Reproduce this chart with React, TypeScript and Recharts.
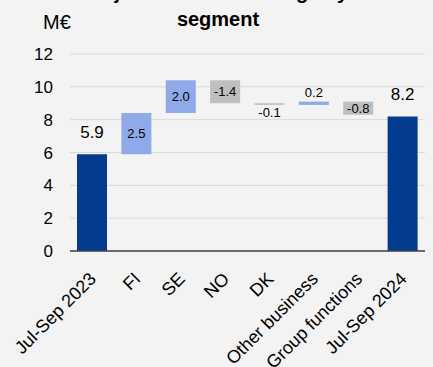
import { BarChart, Bar, XAxis, YAxis, CartesianGrid, Cell, LabelList } from 'recharts';

const categories = ['Jul-Sep 2023', 'FI', 'SE', 'NO', 'DK', 'Other business', 'Group functions', 'Jul-Sep 2024'];
const values = [5.9, 2.5, 2.0, -1.4, -0.1, 0.2, -0.8, 8.2];
const isTotal = [true, false, false, false, false, false, false, true];
const yTicks = [0, 2, 4, 6, 8, 10, 12];

const DARK = '#033c8f';
const LIGHT = '#8faae8';
const GRAY = '#bfbfbf';
const FONT = '"Liberation Sans", Arial, sans-serif';

// waterfall: invisible base + visible step
let running = 0;
const data = categories.map((name, i) => {
  const v = values[i];
  if (isTotal[i]) {
    running = v;
    return { name, base: 0, step: v, value: v, total: true };
  }
  const from = running;
  running = from + v;
  return { name, base: Math.min(from, running), step: Math.abs(v), value: v, total: false };
});

const fmt = (v: number) => v.toFixed(1);

const StepLabel = (props: any) => {
  const { x, y, width, height, index } = props;
  const d = data[index];
  if (!d) return null;
  const cx = x + width / 2;
  if (d.total) {
    return (
      <text x={cx} y={y - 16} textAnchor="middle" fontSize={17} fill="#000" fontFamily={FONT}>
        {fmt(d.value)}
      </text>
    );
  }
  if (height > 10) {
    return (
      <text x={cx} y={y + height / 2} dy={4.5} textAnchor="middle" fontSize={13} fill="#000" fontFamily={FONT}>
        {fmt(d.value)}
      </text>
    );
  }
  if (d.value > 0) {
    return (
      <text x={cx} y={y - 5} textAnchor="middle" fontSize={13} fill="#000" fontFamily={FONT}>
        {fmt(d.value)}
      </text>
    );
  }
  return (
    <text x={cx} y={y + height + 12} textAnchor="middle" fontSize={13} fill="#000" fontFamily={FONT}>
      {fmt(d.value)}
    </text>
  );
};

const XTick = (props: any) => {
  const { x, y, payload } = props;
  const tx = x + 5;
  const ty = y + 27;
  return (
    <text
      x={tx}
      y={ty}
      transform={`rotate(-45 ${tx} ${ty})`}
      textAnchor="end"
      fontSize={18}
      fill="#000"
      fontFamily={FONT}
    >
      {payload.value}
    </text>
  );
};

const titleStyle = {
  position: 'absolute' as const,
  left: 0,
  width: 436,
  textAlign: 'center' as const,
  fontSize: 20,
  fontWeight: 'bold' as const,
  lineHeight: '24px',
  color: '#000',
  whiteSpace: 'nowrap' as const,
};

export default function App() {
  return (
    <div
      style={{
        position: 'absolute',
        top: 0,
        left: 0,
        width: 433,
        height: 367,
        background: '#f3f3f3',
        overflow: 'hidden',
        fontFamily: FONT,
      }}
    >
      <div style={{ ...titleStyle, top: -20 }}>Adjusted EBITDA bridge by</div>
      <div style={{ ...titleStyle, top: 7 }}>segment</div>
      <div style={{ position: 'absolute', top: 10, left: 43, fontSize: 20, lineHeight: '24px', color: '#000' }}>M€</div>
      <BarChart
        width={433}
        height={367}
        data={data}
        margin={{ top: 54, right: 8, bottom: 16, left: 8 }}
        style={{ position: 'absolute', top: 0, left: 0 }}
      >
        <CartesianGrid vertical={false} stroke="#d9d9d9" />
        <XAxis
          dataKey="name"
          height={100}
          interval={0}
          tickLine={false}
          tickSize={0}
          axisLine={{ stroke: '#404040', strokeWidth: 1.5 }}
          tick={<XTick />}
        />
        <YAxis
          width={62}
          domain={[0, 12]}
          ticks={yTicks}
          axisLine={false}
          tickLine={false}
          tickSize={0}
          tickMargin={17}
          tick={{ fontSize: 17, fill: '#000', fontFamily: FONT }}
        />
        <Bar dataKey="base" stackId="w" fill="transparent" barSize={30} isAnimationActive={false} />
        <Bar dataKey="step" stackId="w" barSize={30} isAnimationActive={false}>
          {data.map((d, i) => (
            <Cell key={i} fill={d.total ? DARK : d.value > 0 ? LIGHT : GRAY} />
          ))}
          <LabelList dataKey="step" content={<StepLabel />} />
        </Bar>
      </BarChart>
    </div>
  );
}
